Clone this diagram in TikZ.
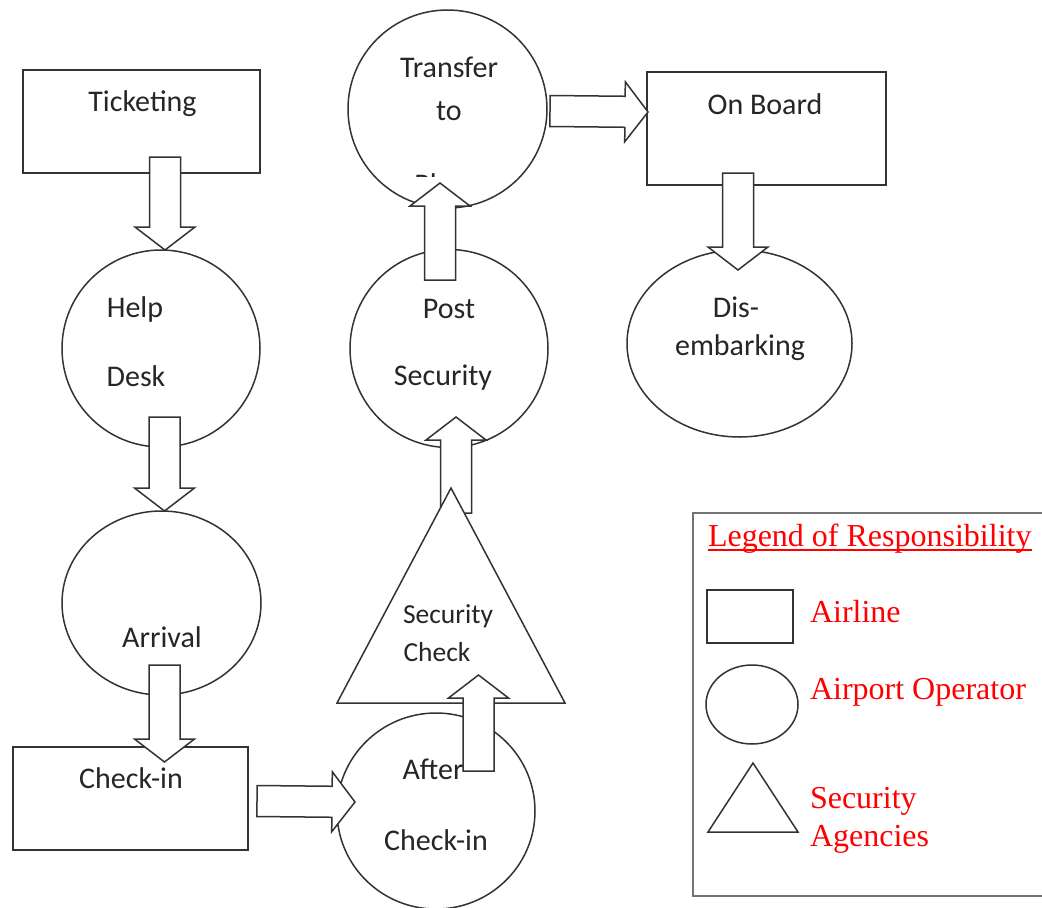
\documentclass[tikz,border=0pt]{standalone}
\usepackage{fontspec}
\setmainfont{Carlito}
\newfontfamily\legfont{Liberation Serif}
\usetikzlibrary{calc, positioning, shapes}
\tikzset{
    blockarrow/.style={
        draw=black!80, fill=white, line width=1.5pt, line join=miter,
        to path={
            ($(\tikztotarget)!\hl!(\tikztostart)$) coordinate (bah)
            ($(\tikztostart)!\bw!90:(\tikztotarget)$)
            -- ($(bah)!\bw!90:(\tikztotarget)$)
            -- ($(bah)!\hw!90:(\tikztotarget)$)
            -- (\tikztotarget)
            -- ($(bah)!\hw!-90:(\tikztotarget)$)
            -- ($(bah)!\bw!-90:(\tikztotarget)$)
            -- ($(\tikztostart)!\bw!-90:(\tikztotarget)$)
            -- cycle
        }
    }
}

\begin{document}
\begin{tikzpicture}[x=1pt, y=-1pt]
    \def\bw{15.5pt}
    \def\hw{30pt}
    \def\hl{23pt}
    \tikzstyle{every node}=[inner sep=0pt, outer sep=0pt];
    \tikzstyle{airline}=[draw=black!80, line width=1.5pt, fill=white, rectangle];
    \tikzstyle{operator}=[draw=black!80, line width=1.5pt, fill=white, ellipse];
    \tikzstyle{agency}=[draw=black!80, line width=1.5pt, fill=white, line join=miter];
    \tikzstyle{lbl}=[font=\fontsize{30}{36}\selectfont, text=black!85];
    \tikzstyle{leglbl}=[font=\legfont\fontsize{32}{38}\selectfont, text=red, anchor=west, align=left];
    \tikzstyle{legframe}=[draw=black!55, line width=2.5pt];
    \path[use as bounding box, clip] (0,0) rectangle (1042,908);

    % airline boxes
    \node[airline, minimum width=237pt, minimum height=103pt] (tick) at (141.5,121.5) {};
    \node[airline, minimum width=235pt, minimum height=103pt] (chk) at (130.5,798.5) {};
    \node[airline, minimum width=239pt, minimum height=113pt] (board) at (766.5,128.5) {};
    % airport operator
    \node[operator, minimum width=198pt, minimum height=197pt] (help) at (161,348.5) {};
    \node[operator, minimum width=199pt, minimum height=184pt] (arr) at (161.5,603) {};
    \node[operator, minimum width=198pt, minimum height=198pt] (post) at (449,348.5) {};
    \node[operator, minimum width=199pt, minimum height=198pt] (trans) at (447.5,109) {};
    \node[operator, minimum width=198pt, minimum height=196pt] (after) at (436,811) {};
    \node[operator, minimum width=225pt, minimum height=187pt] (dis) at (739.5,343.5) {};
    % security agency
    \coordinate (secA) at (451,488);
    \coordinate (secL) at (337,703);
    \coordinate (secR) at (565,703);
    \coordinate (sec) at (451,703);

    \node[lbl] (tickT) at (142.5,104) {Ticketing};
    \node[lbl] (helpT1) at (135,309) {Help};
    \node[lbl] (helpT2) at (136,376) {Desk};
    \node[lbl] (arrT) at (162,637) {Arrival};
    \node[lbl] (chkT) at (131,778) {Check-in};
    \node[lbl] (afterT1) at (433,769) {After};
    \node[lbl] (afterT2) at (436,840) {Check-in};
    \node[lbl] (postT1) at (449,309) {Post};
    \node[lbl] (postT2) at (443,378) {Security};
    \node[lbl] (transT1) at (449,67) {Transfer};
    \node[lbl] (transT2) at (449,111) {to};
    \begin{scope}
    \clip (348,0) rectangle (548,176);
    \node[lbl] (transT3) at (448,184) {Plane};
    \end{scope}
    \node[lbl] (boardT) at (765,104) {On Board};
    \node[lbl] (disT1) at (736,307) {Dis-};
    \node[lbl] (disT2) at (740,348) {embarking};

    \draw[blockarrow] ([shift={(5,-190)}]sec) to ([shift={(7,-30.5)}]post.south);
    \draw[agency] (secL) -- (secA) -- (secR) -- cycle;
    \node[lbl, font=\fontsize{27.5}{33}\selectfont] (secT1) at (448,616) {Security};
    \node[lbl, font=\fontsize{27.5}{33}\selectfont] (secT2) at (437,652) {Check};

    \draw[blockarrow] ([shift={(23.5,-16)}]tick.south) to ([xshift=4pt]help.north);
    \draw[blockarrow] ([shift={(3.5,-30)}]help.south) to ([xshift=3pt]arr.north);
    \draw[blockarrow] ([shift={(3,-30)}]arr.south) to ([shift={(34,15)}]chk.north);
    \draw[blockarrow] ([shift={(9,2.5)}]chk.east) to ([shift={(18,-9)}]after.west);
    \draw[blockarrow] ([shift={(42.5,58)}]after.north) to ([shift={(27.5,-28)}]sec);
    \draw[blockarrow] ([shift={(-9,30.5)}]post.north) to ([shift={(-7.5,-25)}]trans.south);
    \draw[blockarrow] ([shift={(3,2)}]trans.east) to ([shift={(1,-16.5)}]board.west);
    \draw[blockarrow] ([shift={(-28.5,-12)}]board.south) to ([shift={(-1.5,20)}]dis.north);

    % legend
    \draw[legframe] (693,513) rectangle (1070,896);
    \node[leglbl] (legT) at (708,539) {Legend of Responsibility};
    \draw[red, line width=1.4pt] ([yshift=-3pt]legT.base west) -- ([yshift=-3pt]legT.base east);
    \node[airline, minimum width=86pt, minimum height=53pt] (legA) at (750,616.5) {};
    \node[operator, minimum width=92pt, minimum height=79pt] (legB) at (752,704.5) {};
    \coordinate (legCa) at (753,763);
    \coordinate (legCl) at (708,832);
    \coordinate (legCr) at (798,832);
    \draw[agency] (legCl) -- (legCa) -- (legCr) -- cycle;
    \node[leglbl] (legAT) at (810,612) {Airline};
    \node[leglbl] (legBT) at (810,692) {Airport Operator};
    \node[leglbl] (legCT) at (810,820) {Security\\Agencies};
\end{tikzpicture}
\end{document}
